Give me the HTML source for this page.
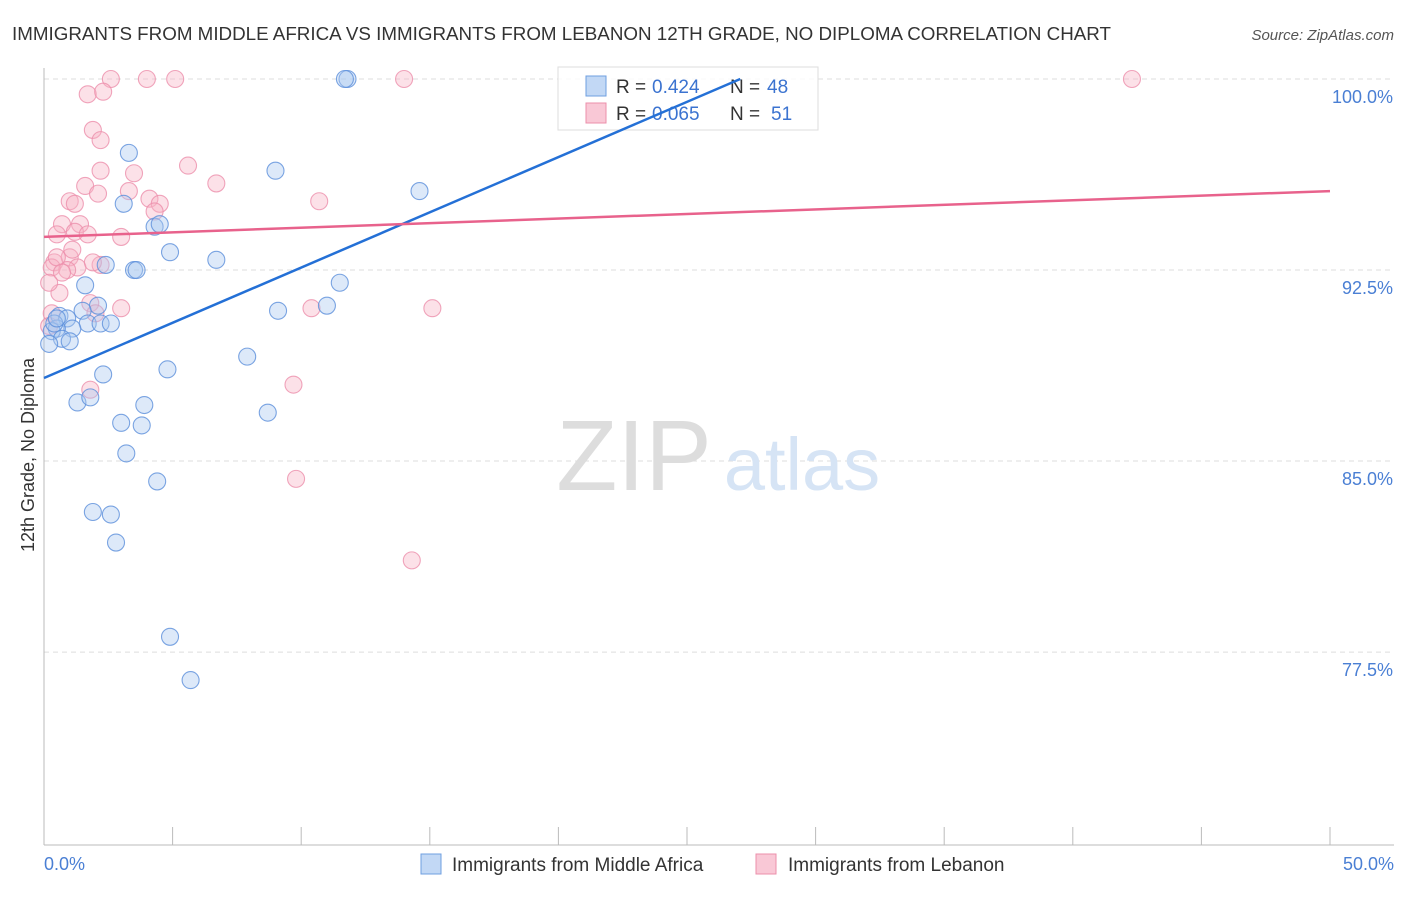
<!DOCTYPE html>
<html><head><meta charset="utf-8"><style>
body{margin:0;background:#fff;font-family:"Liberation Sans",sans-serif}
svg text{font-family:"Liberation Sans",sans-serif}
</style></head><body>
<svg width="1406" height="892" xmlns="http://www.w3.org/2000/svg">
<text x="12" y="40" font-size="18" fill="#333" textLength="1099" lengthAdjust="spacingAndGlyphs">IMMIGRANTS FROM MIDDLE AFRICA VS IMMIGRANTS FROM LEBANON 12TH GRADE, NO DIPLOMA CORRELATION CHART</text>
<text x="1394" y="40" font-size="15" fill="#555" font-style="italic" text-anchor="end">Source: ZipAtlas.com</text>
<g id="grid"></g>
<g><text x="634" y="490" font-size="100" fill="#ddd" font-family="Liberation Serif" text-anchor="middle">ZIP</text><text x="802" y="490" font-size="74" fill="#d6e4f5" text-anchor="middle">atlas</text></g>
<line x1="44" y1="68" x2="44" y2="845" stroke="#bbb"/>
<line x1="44" y1="845" x2="1394" y2="845" stroke="#bbb"/>
<text transform="translate(34,455) rotate(-90)" font-size="18" fill="#333" text-anchor="middle">12th Grade, No Diploma</text>
<text x="44" y="870" font-size="18" fill="#4a7fd4">0.0%</text>
<text x="1394" y="870" font-size="18" fill="#4a7fd4" text-anchor="end">50.0%</text>
<g id="pts"></g>
<g>
<rect x="558" y="67" width="260" height="63" fill="#fff" fill-opacity="0.85" stroke="#ddd"/>
<rect x="586" y="76" width="20" height="20" fill="#c2d8f5" stroke="#6f9fe0"/>
<rect x="586" y="103" width="20" height="20" fill="#f9c8d6" stroke="#ec8fab"/>
<text y="93" font-size="19" fill="#333"><tspan x="616">R =</tspan><tspan x="652" fill="#3b73d0">0.424</tspan><tspan x="730">N =</tspan><tspan x="767" fill="#3b73d0">48</tspan></text>
<text y="120" font-size="19" fill="#333"><tspan x="616">R =</tspan><tspan x="652" fill="#3b73d0">0.065</tspan><tspan x="730">N =</tspan><tspan x="771" fill="#3b73d0">51</tspan></text>
</g>
<g id="lines"></g>
<g>
<rect x="421" y="854" width="20" height="20" fill="#c2d8f5" stroke="#6f9fe0"/>
<text x="452" y="871" font-size="19" fill="#333">Immigrants from Middle Africa</text>
<rect x="756" y="854" width="20" height="20" fill="#f9c8d6" stroke="#ec8fab"/>
<text x="788" y="871" font-size="19" fill="#333">Immigrants from Lebanon</text>
</g>
</svg>
<script>
const yTicks=[100,92.5,85,77.5];
const xTickVals=[0,5,10,15,20,25,30,35,40,45,50];
const blueX=[11.8,11.7,3.3,9.0,14.6,3.1,4.3,4.5,4.9,6.7,2.4,3.5,3.6,11.5,1.6,2.1,1.5,11.0,9.1,0.6,0.9,1.7,2.2,2.6,1.1,0.5,0.3,0.7,1.0,0.2,7.9,4.8,2.3,1.3,1.8,3.9,8.7,3.0,3.8,3.2,4.4,1.9,2.6,2.8,4.9,5.7,0.4,0.5];
const blueY=[100,100,97.1,96.4,95.6,95.1,94.2,94.3,93.2,92.9,92.7,92.5,92.5,92.0,91.9,91.1,90.9,91.1,90.9,90.7,90.6,90.4,90.4,90.4,90.2,90.2,90.1,89.8,89.7,89.6,89.1,88.6,88.4,87.3,87.5,87.2,86.9,86.5,86.4,85.3,84.2,83.0,82.9,81.8,78.1,76.4,90.4,90.6];
const pinkX=[2.6,4.0,5.1,14.0,42.3,1.7,2.3,1.9,2.2,2.2,3.5,5.6,6.7,1.6,2.1,3.3,4.1,4.5,4.3,10.7,1.0,1.2,0.7,1.4,1.2,0.5,1.7,3.0,0.4,1.0,1.3,0.9,0.3,0.5,0.7,2.2,1.1,1.9,0.6,0.2,1.8,3.0,2.0,10.4,15.1,0.3,9.7,1.8,9.8,14.3,0.2];
const pinkY=[100,100,100,100,100,99.4,99.5,98.0,97.6,96.4,96.3,96.6,95.9,95.8,95.5,95.6,95.3,95.1,94.8,95.2,95.2,95.1,94.3,94.3,94.0,93.9,93.9,93.8,92.8,93.0,92.6,92.5,92.6,93.0,92.4,92.7,93.3,92.8,91.6,92.0,91.2,91.0,90.8,91.0,91.0,90.8,88.0,87.8,84.3,81.1,90.3];
const blueTrend=[88.26,100];const blueTrendX=[0,27.07];
const pinkTrend=[93.8,95.6];const pinkTrendX=[0,50];
const NS='http://www.w3.org/2000/svg';
const X=v=>44+v/50*1286;
const Y=v=>79+(100-v)*25.47;
const grid=document.getElementById('grid');
yTicks.forEach(t=>{
 const l=document.createElementNS(NS,'line');
 l.setAttribute('x1',44);l.setAttribute('x2',1394);l.setAttribute('y1',Y(t));l.setAttribute('y2',Y(t));
 l.setAttribute('stroke','#ddd');l.setAttribute('stroke-dasharray','5,4');
 
 
 grid.appendChild(l);
 const tx=document.createElementNS(NS,'text');
 tx.setAttribute('x',1393);tx.setAttribute('y',Y(t)+24);tx.setAttribute('text-anchor','end');
 tx.setAttribute('font-size','18');tx.setAttribute('fill','#4a7fd4');
 tx.textContent=t.toFixed(1)+'%';
 
 
 grid.appendChild(tx);
});
xTickVals.forEach(t=>{
 const l=document.createElementNS(NS,'line');
 l.setAttribute('x1',X(t));l.setAttribute('x2',X(t));l.setAttribute('y1',827);l.setAttribute('y2',845);
 l.setAttribute('stroke','#bbb');
 
 
 grid.appendChild(l);
});
const pts=document.getElementById('pts');
function dots(xs,ys,fill,stroke,name){
 xs.forEach((x,i)=>{
  const c=document.createElementNS(NS,'circle');
  c.setAttribute('cx',X(x));c.setAttribute('cy',Y(ys[i]));c.setAttribute('r',8.5);
  c.setAttribute('fill',fill);c.setAttribute('fill-opacity','0.4');c.setAttribute('stroke',stroke);c.setAttribute('stroke-opacity','0.8');c.setAttribute('stroke-width','1.1');
  
  
  pts.appendChild(c);
 });
}
dots(pinkX,pinkY,'#f7b3c6','#ec8fab','lebanon-point');
dots(blueX,blueY,'#a9c8f0','#5b8fdb','middle-africa-point');
const lines=document.getElementById('lines');
function trend(xs,ys,col,name){
 const l=document.createElementNS(NS,'line');
 l.setAttribute('x1',X(xs[0]));l.setAttribute('y1',Y(ys[0]));l.setAttribute('x2',X(xs[1]));l.setAttribute('y2',Y(ys[1]));
 l.setAttribute('stroke',col);l.setAttribute('stroke-width','2.5');
 
 
 lines.appendChild(l);
}
trend(blueTrendX,blueTrend,'#2470d6','middle-africa-trendline');
trend(pinkTrendX,pinkTrend,'#e8628c','lebanon-trendline');
</script>
</body></html>
